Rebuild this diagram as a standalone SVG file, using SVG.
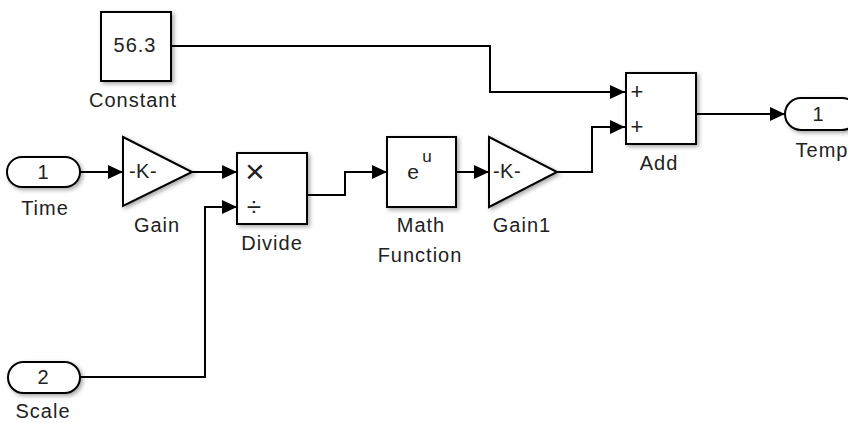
<svg xmlns="http://www.w3.org/2000/svg" width="848" height="423" viewBox="0 0 848 423">
<defs>
<filter id="sh" x="-20%" y="-20%" width="150%" height="150%">
<feDropShadow dx="2" dy="2" stdDeviation="2" flood-color="#000" flood-opacity="0.35"/>
</filter>
<marker id="arr" markerWidth="15" markerHeight="14" refX="15" refY="7" orient="auto" markerUnits="userSpaceOnUse">
<path d="M0,0 L15,7 L0,14 z" fill="#000"/>
</marker>
<style>
.blk{fill:#fff;stroke:#000;stroke-width:2;filter:url(#sh)}
.ln{fill:none;stroke:#000;stroke-width:2;marker-end:url(#arr)}
text{font-family:"Liberation Sans",Arial,sans-serif;fill:#222;}
.lbl{font-size:20px;letter-spacing:1px;text-anchor:middle}
.in{font-size:20px;text-anchor:middle}
.sym{text-anchor:middle}
</style>
</defs>
<rect width="848" height="423" fill="#fff"/>
<g id="connectors">
<polyline class="ln" points="171,46 490,46 490,92 625,92"/>
<polyline class="ln" points="80,172 123,172"/>
<polyline class="ln" points="192,172 237,172"/>
<polyline class="ln" points="80,377 205,377 205,207 237,207"/>
<polyline class="ln" points="307,195 345,195 345,172 387,172"/>
<polyline class="ln" points="456,172 489,172"/>
<polyline class="ln" points="557,172 592,172 592,127 625,127"/>
<polyline class="ln" points="696,114 785,114"/>
</g>
<g id="constant">
<rect class="blk" x="101" y="12" width="70" height="69"/>
<text class="in" x="135" y="52" letter-spacing="1">56.3</text>
<text class="lbl" x="133" y="107">Constant</text>
</g>
<g id="time">
<rect class="blk" x="7" y="157" width="73" height="30" rx="15" ry="15"/>
<text class="in" x="43" y="179">1</text>
<text class="lbl" x="45" y="215">Time</text>
</g>
<g id="gain">
<polygon class="blk" points="123,137 192,172 123,206"/>
<text class="in" x="143" y="178" letter-spacing="0.5">-K-</text>
<text class="lbl" x="157" y="232">Gain</text>
</g>
<g id="divide">
<rect class="blk" x="237" y="153" width="70" height="71"/>
<text class="sym" x="255" y="183" font-size="34">×</text>
<text class="sym" x="254" y="216" font-size="26">÷</text>
<text class="lbl" x="272" y="250">Divide</text>
</g>
<g id="scale">
<rect class="blk" x="8" y="362" width="72" height="31" rx="15.5" ry="15.5"/>
<text class="in" x="43" y="384">2</text>
<text class="lbl" x="43" y="418">Scale</text>
</g>
<g id="math-function">
<rect class="blk" x="387" y="137" width="69" height="70"/>
<text class="sym" x="413" y="179" font-size="21">e</text>
<text class="sym" x="427" y="162" font-size="17">u</text>
<text class="lbl" x="421" y="232">Math</text>
<text class="lbl" x="420" y="262">Function</text>
</g>
<g id="gain1">
<polygon class="blk" points="489,137 557,172 489,207"/>
<text class="in" x="507" y="178" letter-spacing="0.5">-K-</text>
<text class="lbl" x="522" y="232">Gain1</text>
</g>
<g id="add">
<rect class="blk" x="626" y="73" width="70" height="71"/>
<text class="sym" x="637" y="99" font-size="22">+</text>
<text class="sym" x="637" y="134" font-size="22">+</text>
<text class="lbl" x="659" y="170">Add</text>
</g>
<g id="temp">
<rect class="blk" x="785" y="98" width="73" height="32" rx="16" ry="16"/>
<text class="in" x="818" y="121">1</text>
<text class="lbl" x="822" y="157">Temp</text>
</g>
</svg>
